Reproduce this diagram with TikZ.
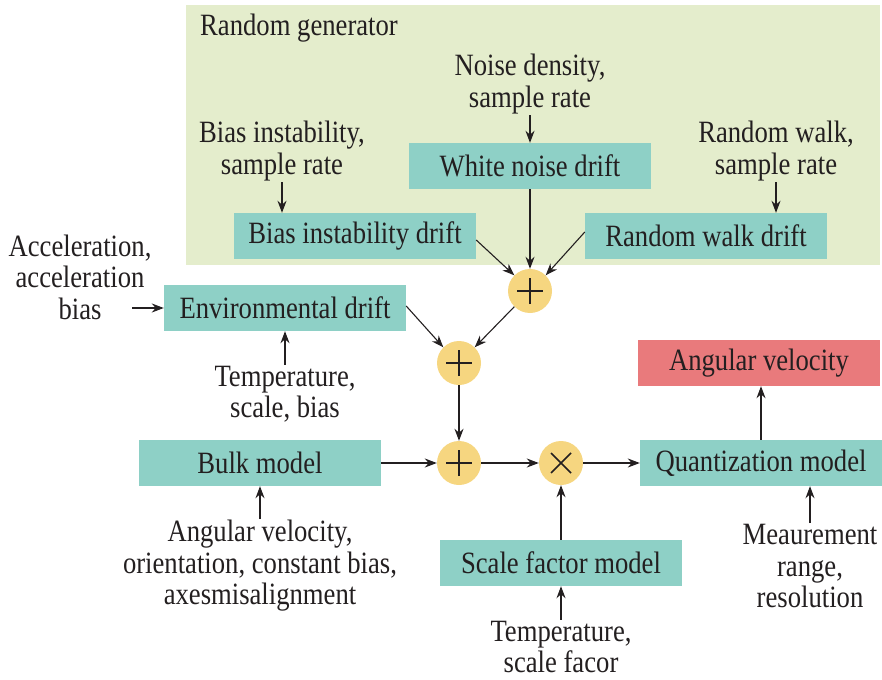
\documentclass[tikz,border=0pt]{standalone}
\usepackage{fontspec}
\setmainfont[FakeStretch=0.86]{Liberation Serif}
\usetikzlibrary{arrows.meta}
\definecolor{bggreen}{HTML}{E4EDCC}
\definecolor{boxteal}{HTML}{8ED0C6}
\definecolor{boxred}{HTML}{E97A7C}
\definecolor{sumyel}{HTML}{F6D680}
\definecolor{txt}{HTML}{231F20}
\begin{document}
\begin{tikzpicture}[x=1pt,y=-1pt,
  every node/.style={font=\fontsize{31}{31.5}\selectfont, text=txt},
  blk/.style={fill=boxteal, minimum width=242pt, minimum height=46pt, inner sep=0pt},
  outblk/.style={fill=boxred, minimum width=242pt, minimum height=46pt, inner sep=0pt},
  sumop/.style={circle, fill=sumyel, minimum size=44pt, inner sep=0pt},
  lbl/.style={align=center, inner sep=1pt},
  arr/.style={draw=txt, line width=1.1pt, -{Stealth[length=12pt,width=9pt]}}]
\useasboundingbox (0,0) rectangle (882,679);
\fill[bggreen] (186,5) rectangle (880,265);
\node[anchor=west, inner sep=0pt] (rg) at (200,28) {Random generator};

\node[blk] (wn) at (530,166) {White noise drift};
\node[blk] (bi) at (355,236) {Bias instability drift};
\node[blk] (rw) at (706,236) {Random walk drift};
\node[blk] (env) at (285,308) {Environmental drift};
\node[blk] (bulk) at (260,463) {Bulk model};
\node[blk] (sf) at (561,563) {Scale factor model};
\node[blk] (qm) at (761,463) {Quantization model};
\node[outblk] (av) at (759,363) {Angular velocity};

\node[sumop] (s1) at (530,291) {};
\node[sumop] (s2) at (459,363) {};
\node[sumop] (s3) at (459,463) {};
\node[sumop] (m1) at (561,463) {};
\foreach \n in {s1,s2,s3}{
  \draw[txt, line width=1.6pt] ([xshift=-13pt]\n.center) -- ([xshift=13pt]\n.center)
    ([yshift=-13pt]\n.center) -- ([yshift=13pt]\n.center);}
\draw[txt, line width=1.6pt] ([shift={(-10pt,-10pt)}]m1.center) -- ([shift={(10pt,10pt)}]m1.center)
  ([shift={(-10pt,10pt)}]m1.center) -- ([shift={(10pt,-10pt)}]m1.center);

\node[lbl] (l1) at (530,84) {Noise density,\\sample rate};
\node[lbl] (l2) at (282,151) {Bias instability,\\sample rate};
\node[lbl] (l3) at (776,151) {Random walk,\\sample rate};
\node[lbl] (l4) at (80,277) {Acceleration,\\acceleration\\bias};
\node[lbl] (l5) at (285,394) {Temperature,\\scale, bias};
\node[lbl] (l6) at (260,566) {Angular velocity,\\orientation, constant bias,\\axesmisalignment};
\node[lbl] (l7) at (561,647) {Temperature,\\scale facor};
\node[lbl] (l8) at (810,566) {Meaurement\\range,\\resolution};

\draw[arr] (l1.south) -- (wn.north);
\draw[arr] (l2.south) -- (l2.south |- bi.north);
\draw[arr] (l3.south) -- (l3.south |- rw.north);
\draw[arr] (wn.south) -- (s1.north);
\draw[arr] ([yshift=-4pt]bi.east) -- (s1.north west);
\draw[arr] ([yshift=4pt]rw.west) -- (s1.north east);
\draw[arr] (s1.south west) -- (s2.north east);
\draw[arr] ([yshift=2pt]env.east) -- (s2.north west);
\coordinate (a4) at (132,308);
\draw[arr] (a4) -- (env.west);
\draw[arr] (l5.north) -- (l5.north |- env.south);
\draw[arr] (s2.south) -- (s3.north);
\draw[arr] (bulk.east) -- (s3.west);
\draw[arr] (s3.east) -- (m1.west);
\draw[arr] (m1.east) -- (qm.west);
\draw[arr] (sf.north) -- (m1.south);
\draw[arr] (l7.north) -- (sf.south);
\draw[arr] (l6.north) -- (l6.north |- bulk.south);
\draw[arr] (l8.north) -- (l8.north |- qm.south);
\draw[arr] (qm.north) -- (qm.north |- av.south);
\end{tikzpicture}
\end{document}
